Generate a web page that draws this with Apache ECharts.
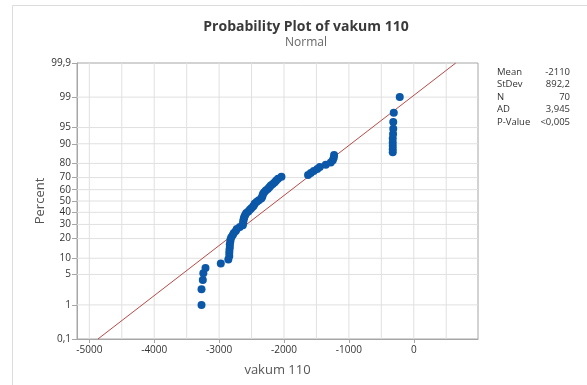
<!DOCTYPE html>
<html>
<head>
<meta charset="utf-8">
<script src="https://cdn.jsdelivr.net/npm/echarts@6/dist/echarts.min.js"></script>
<style>
  html, body { margin: 0; padding: 0; background: #fff; }
  #chart { width: 587px; height: 385px; }
</style>
</head>
<body>
<div id="chart"></div>
<script>
// values of vakum 110 (sorted)
const vakumValues = [
  -3271, -3271, -3251, -3243, -3210, -2974, -2858, -2843, -2843, -2840,
  -2835, -2835, -2827, -2824, -2812, -2789, -2773, -2743, -2727, -2681,
  -2635, -2630, -2627, -2624, -2616, -2609, -2596, -2581, -2550, -2527,
  -2504, -2476, -2461, -2450, -2419, -2388, -2350, -2337, -2330, -2322,
  -2304, -2280, -2250, -2226, -2203, -2173, -2142, -2119, -2091, -2039,
  -1629, -1587, -1541, -1487, -1448, -1356, -1279, -1248, -1233, -1228,
  -324, -324, -324, -324, -324, -319, -316, -316, -308, -216
];
const percentTicks = [0.1, 1, 5, 10, 20, 30, 40, 50, 60, 70, 80, 90, 95, 99, 99.9];
const percentLabels = ['0,1', '1', '5', '10', '20', '30', '40', '50', '60', '70', '80', '90', '95', '99', '99,9'];
const percentGrid = [1, 5, 10, 20, 30, 40, 50, 60, 70, 80, 90, 95, 99];
const xTicks = [-5000, -4000, -3000, -2000, -1000, 0];
const xGrid = [-5000, -4500, -4000, -3500, -3000, -2500, -2000, -1500, -1000, -500, 0, 500];
const statLabels = ['Mean', 'StDev', 'N', 'AD', 'P-Value'];
const statValues = ['-2110', '892,2', '70', '3,945', '<0,005'];
const fitMean = -2110;
const fitStDev = 892.2;
const xMin = -5190, xMax = 990;

// inverse normal cdf (probability scale)
function probit(p) {
  const a = [-39.69683028665376, 220.9460984245205, -275.9285104469687, 138.3577518672690, -30.66479806614716, 2.506628277459239];
  const b = [-54.47609879822406, 161.5858368580409, -155.6989798598866, 66.80131188771972, -13.28068155288572];
  const c = [-0.007784894002430293, -0.3223964580411365, -2.400758277161838, -2.549732539343734, 4.374664141464968, 2.938163982698783];
  const d = [0.007784695709041462, 0.3224671290700398, 2.445134137142996, 3.754408661907416];
  const pl = 0.02425;
  let q, r;
  if (p < pl) {
    q = Math.sqrt(-2 * Math.log(p));
    return (((((c[0]*q+c[1])*q+c[2])*q+c[3])*q+c[4])*q+c[5]) / ((((d[0]*q+d[1])*q+d[2])*q+d[3])*q+1);
  }
  if (p <= 1 - pl) {
    q = p - 0.5; r = q * q;
    return (((((a[0]*r+a[1])*r+a[2])*r+a[3])*r+a[4])*r+a[5])*q / (((((b[0]*r+b[1])*r+b[2])*r+b[3])*r+b[4])*r+1);
  }
  q = Math.sqrt(-2 * Math.log(1 - p));
  return -(((((c[0]*q+c[1])*q+c[2])*q+c[3])*q+c[4])*q+c[5]) / ((((d[0]*q+d[1])*q+d[2])*q+d[3])*q+1);
}

const n = vakumValues.length;
// median ranks (i - 0.3) / (n + 0.4)
const points = vakumValues.map((v, i) => [v, probit((i + 1 - 0.3) / (n + 0.4))]);
const zTicks = percentTicks.map(p => probit(p / 100));
const zMin = zTicks[0], zMax = zTicks[zTicks.length - 1];
const fitLine = [[fitMean + fitStDev * zMin, zMin], [fitMean + fitStDev * zMax, zMax]];

const fontFam = "'Segoe UI', 'Open Sans', 'Noto Sans', sans-serif";
const gridColor = '#e0e0e0';
const frameColor = '#a6a6a6';

const chart = echarts.init(document.getElementById('chart'));

const statGraphics = [];
statLabels.forEach((s, i) => {
  const y = 67 + i * 12.5;
  statGraphics.push({ type: 'text', x: 497, y: y, style: { text: s, fill: '#333', font: '9.5px ' + fontFam, textAlign: 'left' } });
  statGraphics.push({ type: 'text', x: 570, y: y, style: { text: statValues[i], fill: '#333', font: '9.5px ' + fontFam, textAlign: 'right' } });
});

// grid lines as plain line series
const gridSeries = [];
xGrid.forEach(v => gridSeries.push({
  type: 'line', data: [[v, zMin], [v, zMax]], symbol: 'none', silent: true, z: 1,
  lineStyle: { color: gridColor, width: 1 }
}));
percentGrid.forEach(p => {
  const z = probit(p / 100);
  gridSeries.push({
    type: 'line', data: [[xMin, z], [xMax, z]], symbol: 'none', silent: true, z: 1,
    lineStyle: { color: gridColor, width: 1 }
  });
});

chart.setOption({
  animation: false,
  title: {
    text: 'Probability Plot of vakum 110',
    subtext: 'Normal',
    left: 301,
    top: 15,
    textAlign: 'center',
    itemGap: 3,
    textStyle: { fontFamily: fontFam, fontSize: 14, fontWeight: 'bold', color: '#3a3a3a' },
    subtextStyle: { fontFamily: fontFam, fontSize: 12, color: '#666' }
  },
  graphic: [
    { type: 'rect', shape: { x: 12.5, y: 5.5, width: 700, height: 500 }, style: { fill: 'none', stroke: '#dcdcdc', lineWidth: 1 }, silent: true }
  ].concat(statGraphics),
  grid: { left: 77, right: 109, top: 63, bottom: 46, show: true, borderColor: frameColor, borderWidth: 1 },
  xAxis: {
    type: 'value',
    min: xMin,
    max: xMax,
    name: 'vakum 110',
    nameLocation: 'middle',
    nameGap: 25,
    nameTextStyle: { fontFamily: fontFam, fontSize: 13, color: '#555' },
    axisLine: { show: true, onZero: false, lineStyle: { color: frameColor } },
    axisTick: { show: true, length: 4, customValues: xTicks, lineStyle: { color: frameColor } },
    axisLabel: {
      customValues: xTicks, margin: 6, fontFamily: fontFam, fontSize: 10, color: '#333',
      formatter: function (v) { return String(Math.round(v)); }
    },
    splitLine: { show: false }
  },
  yAxis: {
    type: 'value',
    min: zMin,
    max: zMax,
    name: 'Percent',
    nameLocation: 'middle',
    nameGap: 30,
    nameMoveOverlap: false,
    nameTextStyle: { fontFamily: fontFam, fontSize: 13, color: '#555' },
    axisLine: { show: true, onZero: false, lineStyle: { color: frameColor } },
    axisTick: { show: true, length: 5, customValues: zTicks, lineStyle: { color: frameColor } },
    axisLabel: {
      customValues: zTicks,
      margin: 6,
      fontFamily: fontFam,
      fontSize: 10,
      color: '#333',
      formatter: function (v) {
        let best = 0;
        zTicks.forEach((z, i) => { if (Math.abs(z - v) < Math.abs(zTicks[best] - v)) best = i; });
        return percentLabels[best];
      }
    },
    splitLine: { show: false }
  },
  series: gridSeries.concat([
    {
      name: 'fit',
      type: 'line',
      data: fitLine,
      symbol: 'none',
      silent: true,
      lineStyle: { color: '#b84a47', width: 1 },
      z: 3
    },
    {
      name: 'vakum 110',
      type: 'scatter',
      data: points,
      symbol: 'circle',
      symbolSize: 8,
      itemStyle: { color: '#0b57a8', opacity: 1 },
      z: 4
    }
  ])
});
</script>
</body>
</html>
